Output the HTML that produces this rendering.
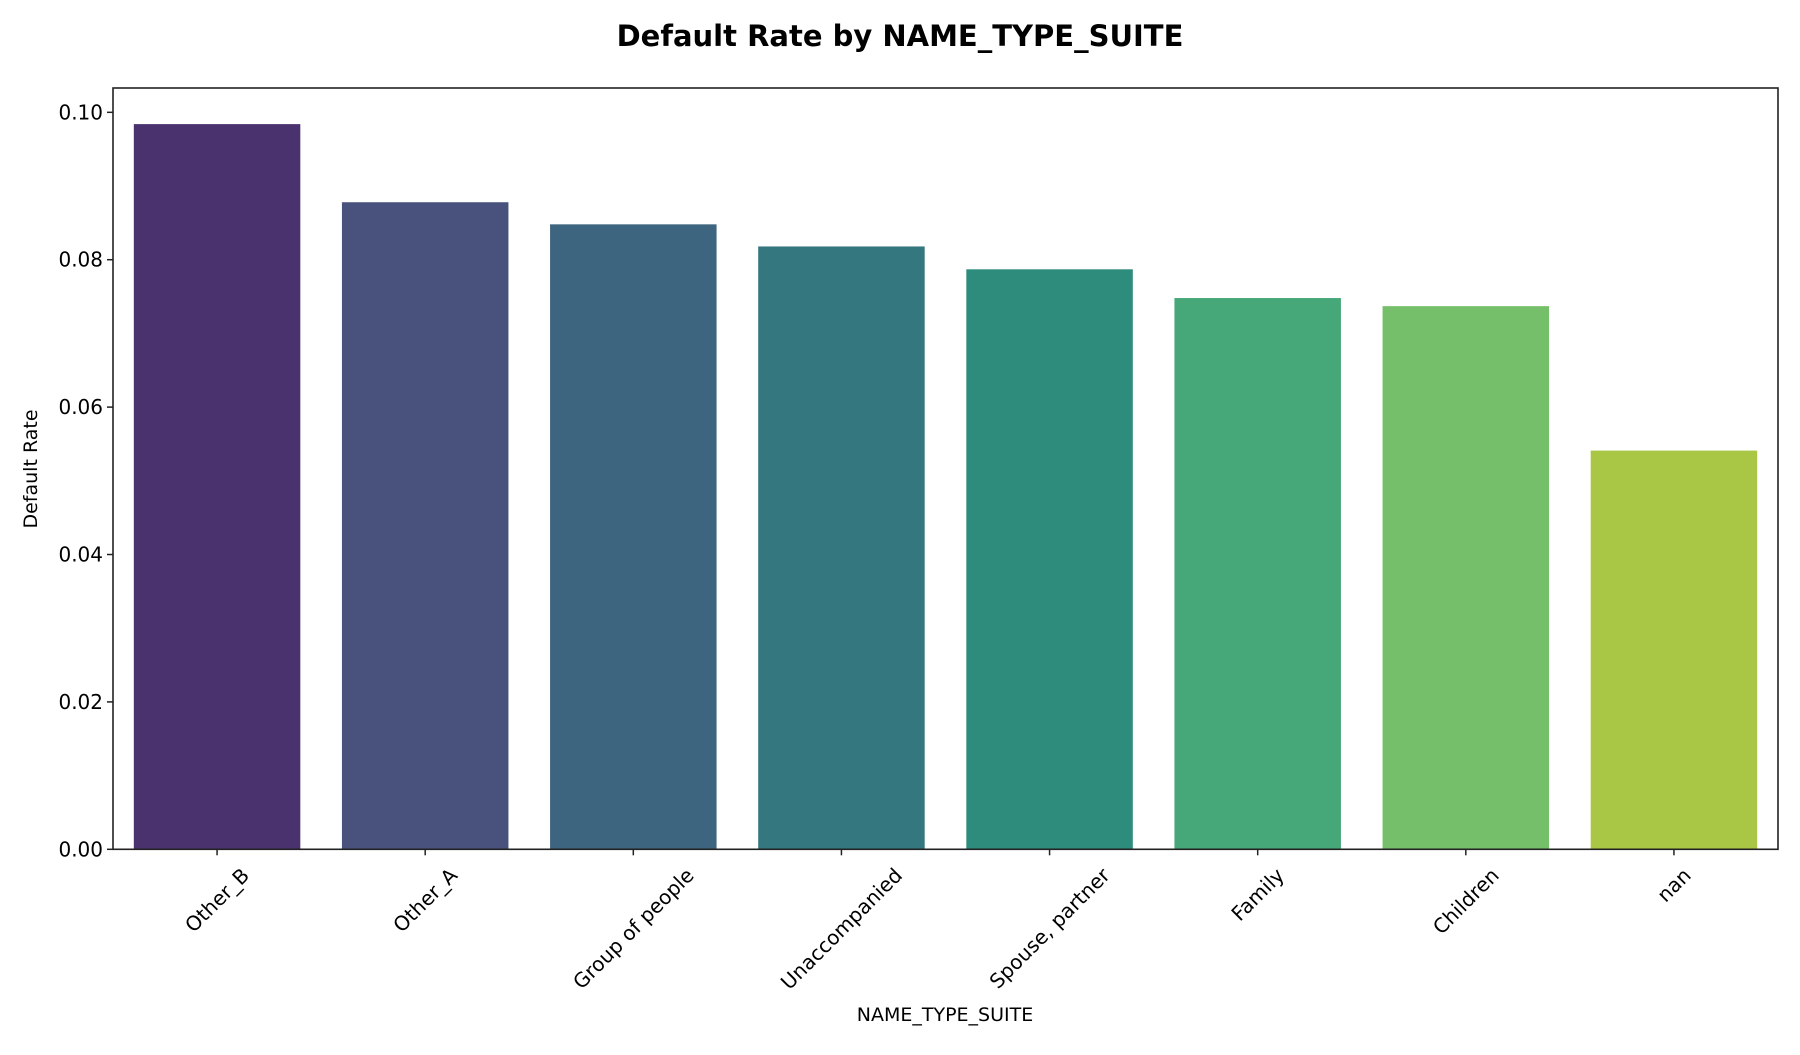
<!DOCTYPE html>
<html><head><meta charset="utf-8"><style>
html,body{margin:0;padding:0;background:#fff;}
svg text{font-family:"DejaVu Sans","Liberation Sans",sans-serif;fill:#000;}
</style></head><body>
<svg id="chart" width="1800" height="1050" xmlns="http://www.w3.org/2000/svg">
<text x="900" y="46" text-anchor="middle" font-size="29" font-weight="bold">Default Rate by NAME_TYPE_SUITE</text>
<g id="bars"></g>
<g id="yticks"></g>
<g id="xticks"></g>
<rect x="113" y="88" width="1665" height="761.3" fill="none" stroke="#222" stroke-width="1.6"/>
<text x="0" y="0" transform="translate(37,469) rotate(-90)" text-anchor="middle" font-size="19">Default Rate</text>
<text x="945" y="1021" text-anchor="middle" font-size="19">NAME_TYPE_SUITE</text>
</svg>
<script>
const categories = ["Other_B","Other_A","Group of people","Unaccompanied","Spouse, partner","Family","Children","nan"];
const values = [0.0984,0.0878,0.0848,0.0818,0.0787,0.0748,0.0737,0.0541];
const colors = ["#4a326e","#48527d","#3e657f","#34777e","#2e8c7c","#46a878","#76bf6a","#a9c644"];
const yTicks = [0,0.02,0.04,0.06,0.08,0.10];
const yTickLabels = ["0.00","0.02","0.04","0.06","0.08","0.10"];
const NS="http://www.w3.org/2000/svg";
const pLeft=113,pRight=1778,pTop=88,pBottom=849.3,yMax=0.1033;
const yScale=v=>pBottom-(v/yMax)*(pBottom-pTop);
const step=(pRight-pLeft)/categories.length;
const xScale=i=>pLeft+step*(i+0.5);
const bw=step*0.8;
function mk(t,a){const e=document.createElementNS(NS,t);for(const k in a)e.setAttribute(k,a[k]);return e;}
const gb=document.getElementById('bars'),gy=document.getElementById('yticks'),gx=document.getElementById('xticks');
values.forEach((v,i)=>{
  const r=mk('rect',{x:xScale(i)-bw/2,y:yScale(v),width:bw,height:pBottom-yScale(v),fill:colors[i]});
  
  
  gb.appendChild(r);
});
yTicks.forEach((t,i)=>{
  const l=mk('line',{x1:pLeft-6,x2:pLeft,y1:yScale(t),y2:yScale(t),stroke:'#222','stroke-width':1.5});
  
  
  gy.appendChild(l);
  const tx=mk('text',{x:pLeft-10,y:yScale(t)+7,'text-anchor':'end','font-size':20});
  tx.textContent=yTickLabels[i];
  
  
  gy.appendChild(tx);
});
categories.forEach((c,i)=>{
  const l=mk('line',{x1:xScale(i),x2:xScale(i),y1:pBottom,y2:pBottom+6,stroke:'#222','stroke-width':1.5});
  
  
  gx.appendChild(l);
  const tx=mk('text',{x:0,y:0,'text-anchor':'middle','dominant-baseline':'central','font-size':20});
  tx.textContent=c;
  
  
  gx.appendChild(tx);
  const L=tx.getComputedTextLength();
  const cy=pBottom+16+(L+18)/(2*Math.SQRT2);
  tx.setAttribute('transform',`translate(${xScale(i)},${cy}) rotate(-45)`);
});
</script>
</body></html>
